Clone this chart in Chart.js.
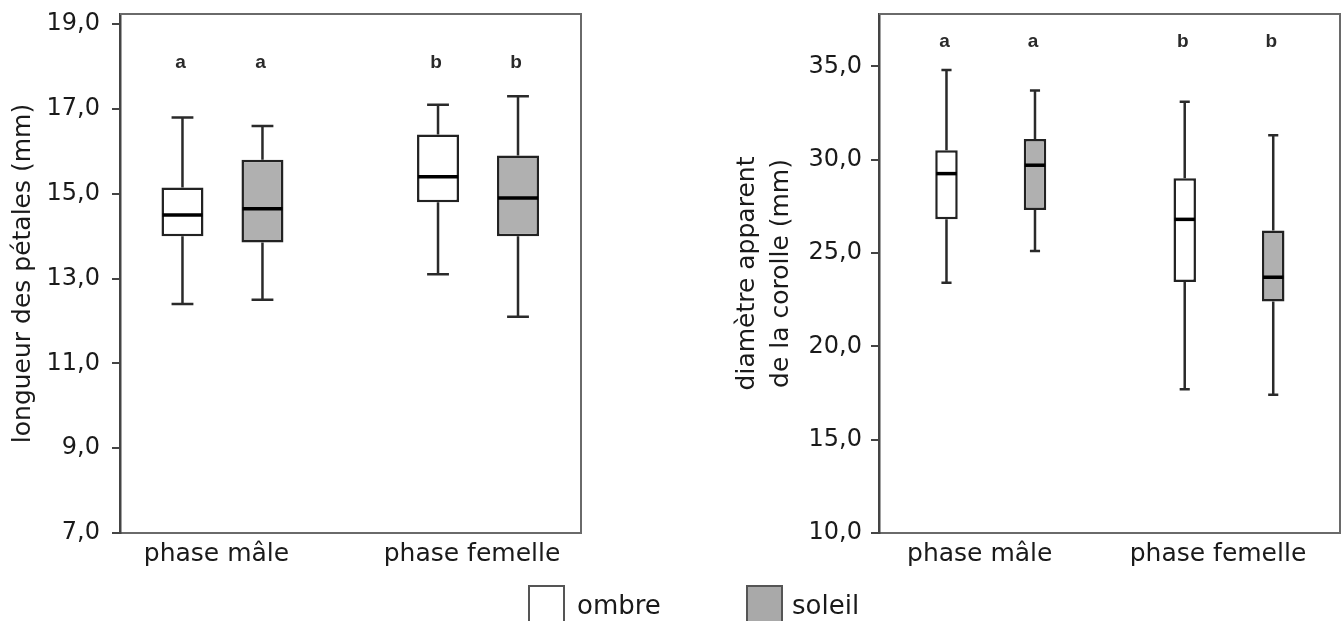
<!DOCTYPE html>
<html lang="fr">
<head>
<meta charset="utf-8">
<title>Longueur des pétales et diamètre de la corolle</title>
<script src="https://cdn.jsdelivr.net/npm/chart.js@4.4.1/dist/chart.umd.min.js"></script>
<style>
  body { margin: 0; background: #fff; font-family: 'DejaVu Sans', sans-serif; color: #1a1a1a; }
  .panel { position: absolute; top: 0; height: 621px; }
  .key { position: absolute; top: 585px; width: 37px; height: 40px; border: 2px solid #555; box-sizing: border-box; }
  .keytext { position: absolute; top: 592px; font-size: 26px; line-height: 26px; }
</style>
</head>
<body>
<div class="panel" style="left:0;width:640px"><canvas id="petales"></canvas></div>
<div class="panel" style="left:660px;width:683px"><canvas id="corolle"></canvas></div>

<div class="key" style="left:528px;background:#fff"></div>
<div class="keytext" style="left:577px">ombre</div>
<div class="key" style="left:746px;background:#a9a9a9"></div>
<div class="keytext" style="left:792px">soleil</div>

<script>
var categories = ['phase mâle', 'phase femelle'];
var seriesNames = ['ombre', 'soleil'];

// one box per category: min, q1, median, q3, max
var petalesOmbre = [[12.4, 14.0, 14.5, 15.15, 16.8], [13.1, 14.8, 15.4, 16.4, 17.1]];
var petalesSoleil = [[12.5, 13.85, 14.65, 15.8, 16.6], [12.1, 14.0, 14.9, 15.9, 17.3]];
var petalesLettres = [['a', 'b'], ['a', 'b']];
var petalesTicks = [7, 9, 11, 13, 15, 17, 19];

var corolleOmbre = [[23.4, 26.8, 29.25, 30.5, 34.8], [17.7, 23.45, 26.8, 29.0, 33.1]];
var corolleSoleil = [[25.1, 27.3, 29.7, 31.1, 33.7], [17.4, 22.4, 23.7, 26.2, 31.3]];
var corolleLettres = [['a', 'b'], ['a', 'b']];
var corolleTicks = [10, 15, 20, 25, 30, 35];

Chart.defaults.font.family = "'DejaVu Sans', sans-serif";
Chart.defaults.color = '#1a1a1a';

function virgule(v) {
  return Number(v).toFixed(1).replace('.', ',');
}

function boxes(stats, name, fill, lettres) {
  return {
    label: name,
    data: stats.map(function (s, j) { return { x: j + 1, y: [s[1], s[3]] }; }),
    stats: stats,
    lettres: lettres,
    backgroundColor: fill,
    borderColor: '#222',
    borderWidth: 2.5,
    borderSkipped: false
  };
}

// whiskers, medians, letters and the top/right frame
var boxPlugin = {
  id: 'boites',
  afterDatasetsDraw: function (chart, args, opts) {
    var ctx = chart.ctx, y = chart.scales.y, area = chart.chartArea;
    ctx.save();
    chart.data.datasets.forEach(function (ds, i) {
      chart.getDatasetMeta(i).data.forEach(function (bar, j) {
        var s = ds.stats[j];
        var half = bar.width / 2, cap = bar.width * opts.cap / 2;
        ctx.strokeStyle = '#2a2a2a';
        ctx.lineWidth = 2.5;
        ctx.beginPath();
        ctx.moveTo(bar.x, y.getPixelForValue(s[3]));
        ctx.lineTo(bar.x, y.getPixelForValue(s[4]));
        ctx.moveTo(bar.x - cap, y.getPixelForValue(s[4]));
        ctx.lineTo(bar.x + cap, y.getPixelForValue(s[4]));
        ctx.moveTo(bar.x, y.getPixelForValue(s[1]));
        ctx.lineTo(bar.x, y.getPixelForValue(s[0]));
        ctx.moveTo(bar.x - cap, y.getPixelForValue(s[0]));
        ctx.lineTo(bar.x + cap, y.getPixelForValue(s[0]));
        ctx.stroke();

        ctx.strokeStyle = '#000';
        ctx.lineWidth = 3.5;
        ctx.beginPath();
        ctx.moveTo(bar.x - half + 1, y.getPixelForValue(s[2]));
        ctx.lineTo(bar.x + half - 1, y.getPixelForValue(s[2]));
        ctx.stroke();

        ctx.fillStyle = '#2a2a2a';
        ctx.font = "bold 19px 'Liberation Sans', sans-serif";
        ctx.textAlign = 'center';
        ctx.textBaseline = 'middle';
        ctx.fillText(ds.lettres[j], bar.x - 2, y.getPixelForValue(opts.letterY));
      });
    });
    ctx.strokeStyle = '#6a6a6a';
    ctx.lineWidth = 2;
    ctx.beginPath();
    ctx.moveTo(area.left, area.top);
    ctx.lineTo(area.right, area.top);
    ctx.lineTo(area.right, area.bottom);
    ctx.stroke();
    ctx.restore();
  }
};

function noPad(s) {
  s.paddingTop = 0;
  s.paddingBottom = 0;
  s.paddingLeft = 0;
  s.paddingRight = 0;
}

function makeChart(id, cfg) {
  return new Chart(document.getElementById(id), {
    type: 'bar',
    data: {
      datasets: [
        boxes(cfg.ombre, seriesNames[0], '#ffffff', cfg.lettres[0]),
        boxes(cfg.soleil, seriesNames[1], '#b0b0b0', cfg.lettres[1])
      ]
    },
    options: {
      responsive: true,
      maintainAspectRatio: false,
      animation: false,
      categoryPercentage: cfg.catPct,
      barPercentage: cfg.barPct,
      layout: { padding: { top: 14, right: cfg.padRight, bottom: 0, left: 0 } },
      plugins: {
        legend: { display: false },
        tooltip: { enabled: false },
        boites: { cap: cfg.cap, letterY: cfg.letterY }
      },
      scales: {
        x: {
          type: 'linear',
          min: cfg.xMin,
          max: cfg.xMax,
          offset: false,
          afterBuildTicks: function (s) { s.ticks = [{ value: 1 }, { value: 2 }]; },
          afterFit: function (s) { s.height = 88; noPad(s); },
          grid: { display: false, drawTicks: false },
          border: { color: '#6a6a6a', width: 2 },
          ticks: {
            padding: 6,
            maxRotation: 0,
            autoSkip: false,
            labelOffset: cfg.labelOffset,
            font: { size: 25 },
            callback: function (v) { return categories[Math.round(v) - 1]; }
          }
        },
        y: {
          min: cfg.yMin,
          max: cfg.yMax,
          afterBuildTicks: function (s) { s.ticks = cfg.ticks.map(function (v) { return { value: v }; }); },
          afterFit: function (s) { s.width = cfg.axisWidth; noPad(s); },
          border: { color: '#444', width: 2.5 },
          grid: { drawOnChartArea: false, tickLength: 8, color: '#444', lineWidth: 2 },
          ticks: { padding: cfg.tickPad, font: { size: 24 }, callback: virgule },
          title: {
            display: true,
            text: cfg.title,
            font: { size: 25, lineHeight: cfg.titleLH },
            padding: { top: cfg.titlePad, bottom: 0 }
          }
        }
      }
    },
    plugins: [boxPlugin]
  });
}

makeChart('petales', {
  ombre: petalesOmbre, soleil: petalesSoleil, lettres: petalesLettres, ticks: petalesTicks,
  yMin: 7, yMax: 19.24, xMin: 0.599, xMax: 2.403,
  catPct: 0.626, barPct: 0.525, cap: 0.52, letterY: 18.08,
  padRight: 59, axisWidth: 120, tickPad: 12, labelOffset: -6,
  title: 'longueur des pétales (mm)', titleLH: 1.2, titlePad: 8
});

makeChart('corolle', {
  ombre: corolleOmbre, soleil: corolleSoleil, lettres: corolleLettres, ticks: corolleTicks,
  yMin: 10, yMax: 37.8, xMin: 0.531, xMax: 2.466,
  catPct: 0.743, barPct: 0.254, cap: 0.45, letterY: 36.3,
  padRight: 3, axisWidth: 219, tickPad: 9, labelOffset: -11,
  title: ['diamètre apparent', 'de la corolle (mm)'], titleLH: 1.36, titlePad: 70
});
</script>
</body>
</html>
